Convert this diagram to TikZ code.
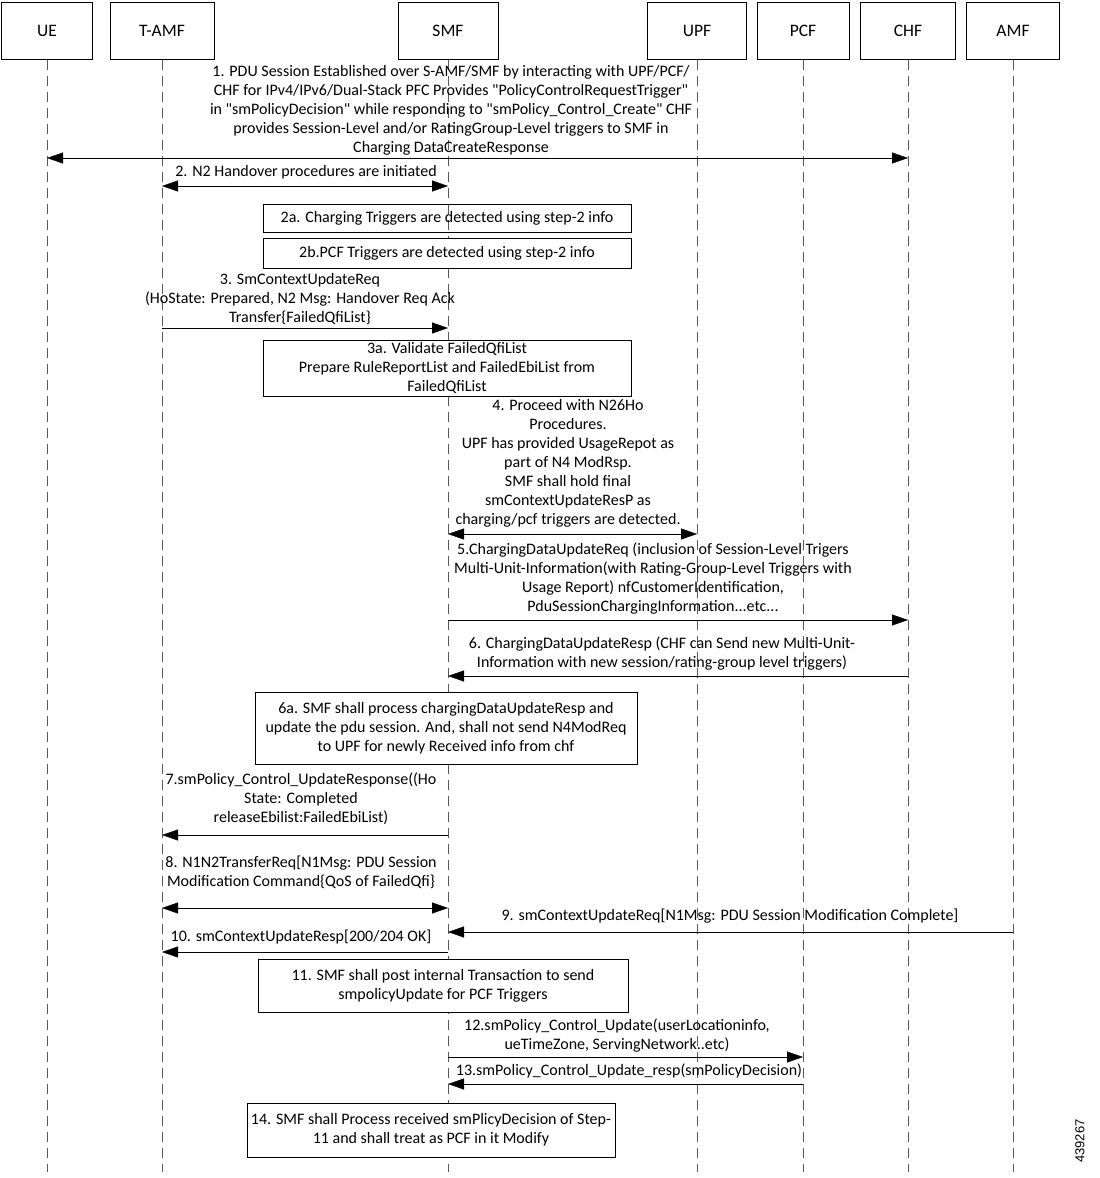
\documentclass[tikz,border=0pt]{standalone}
\usepackage{fontspec}
\setmainfont{Carlito}
\newfontfamily\idfont{Liberation Sans}
\usetikzlibrary{arrows.meta}
\tikzset{%
    entity/.style={draw, minimum height=57pt, inner sep=0pt,
        font=\fontsize{17.5}{20}\selectfont},
    lifeline/.style={draw=black!65, dash pattern=on 10pt off 6pt},
    msg/.style={-{Triangle[length=16pt,width=11pt]}},
    dmsg/.style={{Triangle[length=16pt,width=11pt]}-{Triangle[length=16pt,width=11pt]}},
    note/.style={draw, fill=white, align=center, inner sep=0pt,
        font=\fontsize{16}{19}\selectfont},
    txt/.style={align=center, inner sep=0pt, font=\fontsize{16}{19}\selectfont}
}

\begin{document}
\begin{tikzpicture}[x=1pt,y=-1pt]
    \useasboundingbox (0,0) rectangle (1100,1178);
    % participants and lifelines
    \coordinate (bottom) at (0,1172);
    \foreach \name/\lbl/\x/\w in {ue/UE/47/91, tamf/T-AMF/162/104, smf/SMF/448/100,
        upf/UPF/697/99, pcf/PCF/803/92, chf/CHF/908/95, amf/AMF/1013/93}
    {
    \node[entity, minimum width=\w pt] (\name) at (\x,31) {\lbl};
    \draw[lifeline] (\name.south) -- (\name |- bottom);
    }
    % message levels
    \foreach \n/\y in {1/158, 2/186, 3/328, 4/534, 5/620, 6/676, 7/835,
        8/908, 9/932, 10/952, 12/1057, 13/1084}
    {
    \coordinate (y\n) at (0,\y);
    }
    % 1
    \node[txt] (t1) at (451,110) {1. PDU Session Established over S-AMF/SMF by interacting with UPF/PCF/\\
        CHF for IPv4/IPv6/Dual-Stack PFC Provides \textquotedbl PolicyControlRequestTrigger\textquotedbl\\
        in \textquotedbl smPolicyDecision\textquotedbl\ while responding to \textquotedbl smPolicy\_Control\_Create\textquotedbl\ CHF\\
        provides Session-Level and/or RatingGroup-Level triggers to SMF in\\
        Charging DataCreateResponse};
    \draw[dmsg] (ue |- y1) -- (chf |- y1);
    % 2
    \node[txt] (t2) at (306,172) {2. N2 Handover procedures are initiated};
    \draw[dmsg] (tamf |- y2) -- (smf |- y2);
    \node[note, fill=none, minimum width=368pt, minimum height=28pt] (n2a) at (447,218)
        {2a. Charging Triggers are detected using step-2 info};
    \node[note, minimum width=368pt, minimum height=30pt] (n2b) at (447,253)
        {2b.PCF Triggers are detected using step-2 info};
    % 3
    \node[txt] (t3) at (300,299) {3. SmContextUpdateReq\\
        (HoState: Prepared, N2 Msg: Handover Req Ack\\
        Transfer\{FailedQfiList\}};
    \draw[msg] (tamf |- y3) -- (smf |- y3);
    \node[note, minimum width=368pt, minimum height=56pt] (n3a) at (447,368)
        {3a. Validate FailedQfiList\\
        Prepare RuleReportList and FailedEbiList from\\
        FailedQfiList};
    % 4
    \node[txt] (t4) at (568,463) {4. Proceed with N26Ho\\
        Procedures.\\
        UPF has provided UsageRepot as\\
        part of N4 ModRsp.\\
        SMF shall hold final\\
        smContextUpdateResP as\\
        charging/pcf triggers are detected.};
    \draw[dmsg] (smf |- y4) -- (upf |- y4);
    % 5
    \node[txt] (t5) at (653,579) {5.ChargingDataUpdateReq (inclusion of Session-Level Trigers\\
        Multi-Unit-Information(with Rating-Group-Level Triggers with\\
        Usage Report) nfCustomerIdentification,\\
        PduSessionChargingInformation...etc...};
    \draw[msg] (smf |- y5) -- (chf |- y5);
    % 6
    \node[txt] (t6) at (662,654) {6. ChargingDataUpdateResp (CHF can Send new Multi-Unit-\\
        Information with new session/rating-group level triggers)};
    \draw[msg] (chf |- y6) -- (smf |- y6);
    \node[note, minimum width=382pt, minimum height=72pt] (n6a) at (446,728)
        {6a. SMF shall process chargingDataUpdateResp and\\
        update the pdu session. And, shall not send N4ModReq\\
        to UPF for newly Received info from chf};
    % 7
    \node[txt] (t7) at (301,799) {7.smPolicy\_Control\_UpdateResponse((Ho\\
        State: Completed\\
        releaseEbilist:FailedEbiList)};
    \draw[msg] (smf |- y7) -- (tamf |- y7);
    % 8
    \node[txt] (t8) at (301,872) {8. N1N2TransferReq[N1Msg: PDU Session\\
        Modification Command\{QoS of FailedQfi\}};
    \draw[dmsg] (tamf |- y8) -- (smf |- y8);
    % 9, 10
    \node[txt] (t9) at (730,916) {9. smContextUpdateReq[N1Msg: PDU Session Modification Complete]};
    \draw[msg] (amf |- y9) -- (smf |- y9);
    \node[txt] (t10) at (301,937) {10. smContextUpdateResp[200/204 OK]};
    \draw[msg] (smf |- y10) -- (tamf |- y10);
    \node[note, minimum width=370pt, minimum height=53pt] (n11) at (443,986)
        {11. SMF shall post internal Transaction to send\\
        smpolicyUpdate for PCF Triggers};
    % 12, 13
    \node[txt] (t12) at (617,1036) {12.smPolicy\_Control\_Update(userLocationinfo,\\
        ueTimeZone, ServingNetwork..etc)};
    \draw[msg] (smf |- y12) -- (pcf |- y12);
    \node[txt] (t13) at (629,1071) {13.smPolicy\_Control\_Update\_resp(smPolicyDecision)};
    \draw[msg] (pcf |- y13) -- (smf |- y13);
    \node[note, minimum width=368pt, minimum height=54pt] (n14) at (431,1130)
        {14. SMF shall Process received smPlicyDecision of Step-\\
        11 and shall treat as PCF in it Modify};
    \node[rotate=90, inner sep=0pt, font=\idfont\fontsize{13}{15}\selectfont] (fig) at (1080,1141) {439267};
\end{tikzpicture}
\end{document}
